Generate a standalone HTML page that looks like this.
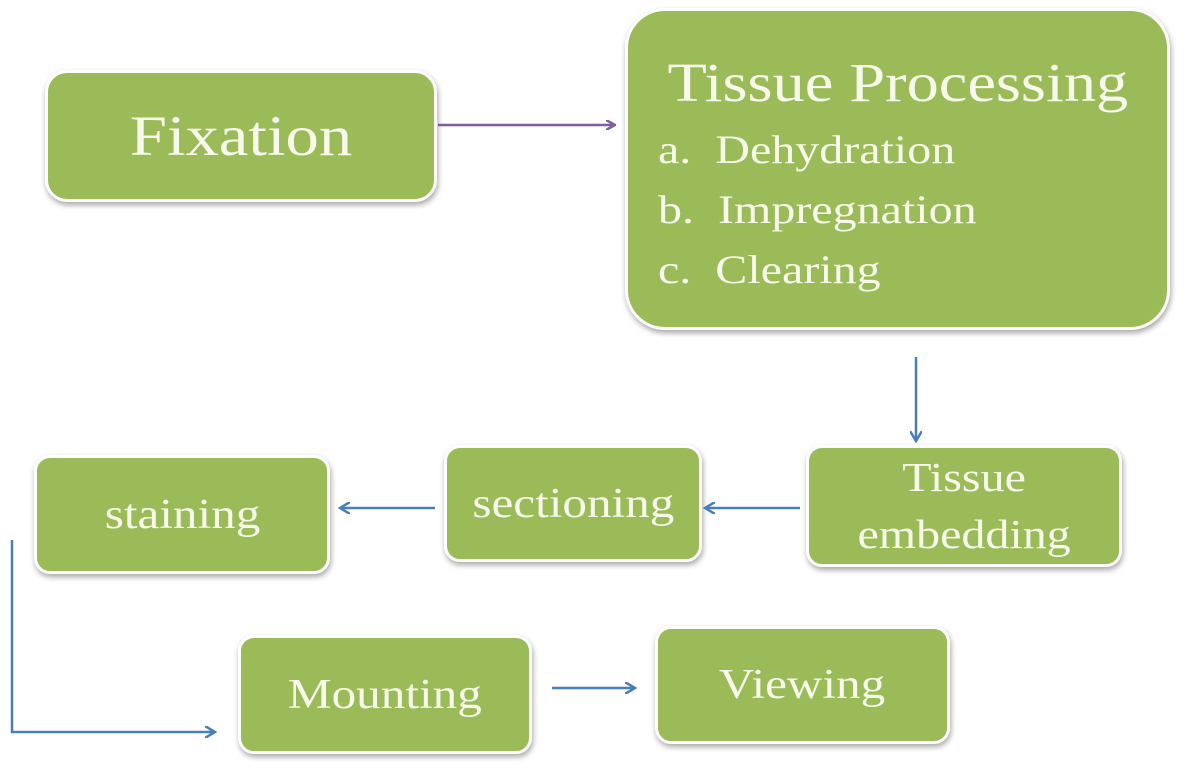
<!DOCTYPE html>
<html><head><style>
body{margin:0;width:1200px;height:782px;background:#fff;position:relative;overflow:hidden;font-family:"Liberation Serif",serif}
.b{position:absolute;background:#9bbb59;border:3px solid #fff;border-radius:22px;box-shadow:1px 3px 6px rgba(0,0,0,.35);color:#f7f9ea;display:flex;align-items:center;justify-content:center;text-align:center;box-sizing:border-box}
.s{display:inline-block;transform:scaleX(1.17)}
svg{position:absolute;left:0;top:0}
</style></head><body>
<div class="b" style="left:45px;top:70px;width:392px;height:132px;font-size:57px"><span class="s">Fixation</span></div>
<div class="b" style="left:625px;top:8px;width:545px;height:322px;border-radius:40px;display:block;text-align:left">
<div style="font-size:55px;text-align:center;margin-top:42px;line-height:60px"><span class="s">Tissue Processing</span></div>
<div style="font-size:40px;line-height:60px;margin-left:30px;margin-top:7px;transform:scaleX(1.2);transform-origin:left"><span>a.&nbsp; Dehydration</span><br>b.&nbsp; Impregnation<br>c.&nbsp; Clearing</div></div>
<div class="b" style="left:806px;top:445px;width:316px;height:122px;font-size:41px;line-height:57px;border-radius:16px"><span class="s">Tissue<br>embedding</span></div>
<div class="b" style="left:444px;top:445px;width:258px;height:117px;font-size:42px;border-radius:16px"><span class="s">sectioning</span></div>
<div class="b" style="left:34px;top:455px;width:296px;height:119px;font-size:42px;border-radius:16px"><span class="s">staining</span></div>
<div class="b" style="left:238px;top:635px;width:294px;height:119px;font-size:42px;border-radius:16px"><span class="s">Mounting</span></div>
<div class="b" style="left:655px;top:626px;width:295px;height:118px;font-size:42px;border-radius:16px"><span class="s">Viewing</span></div>
<svg width="1200" height="782">
<defs>
<marker id="p" markerWidth="10" markerHeight="10" refX="8" refY="5" orient="auto" markerUnits="userSpaceOnUse"><path d="M0,0 L9,5 L0,10" fill="none" stroke="#7e5ea0" stroke-width="2.5"/></marker>
<marker id="a" markerWidth="12" markerHeight="12" refX="9" refY="6" orient="auto" markerUnits="userSpaceOnUse"><path d="M0,0 L10,6 L0,12" fill="none" stroke="#4a7ebb" stroke-width="2.5"/></marker>
</defs>
<g fill="none" stroke-width="2.5">
<line x1="438" y1="125" x2="614" y2="125" stroke="#7e5ea0" marker-end="url(#p)"/>
<g stroke="#4a7ebb" marker-end="url(#a)">
<line x1="916" y1="357" x2="916" y2="440"/>
<line x1="800" y1="508" x2="706" y2="508"/>
<line x1="435" y1="508" x2="341" y2="508"/>
<polyline points="12,540 12,732 214,732"/>
<line x1="552" y1="688" x2="634" y2="688"/>
</g></g></svg>
</body></html>
